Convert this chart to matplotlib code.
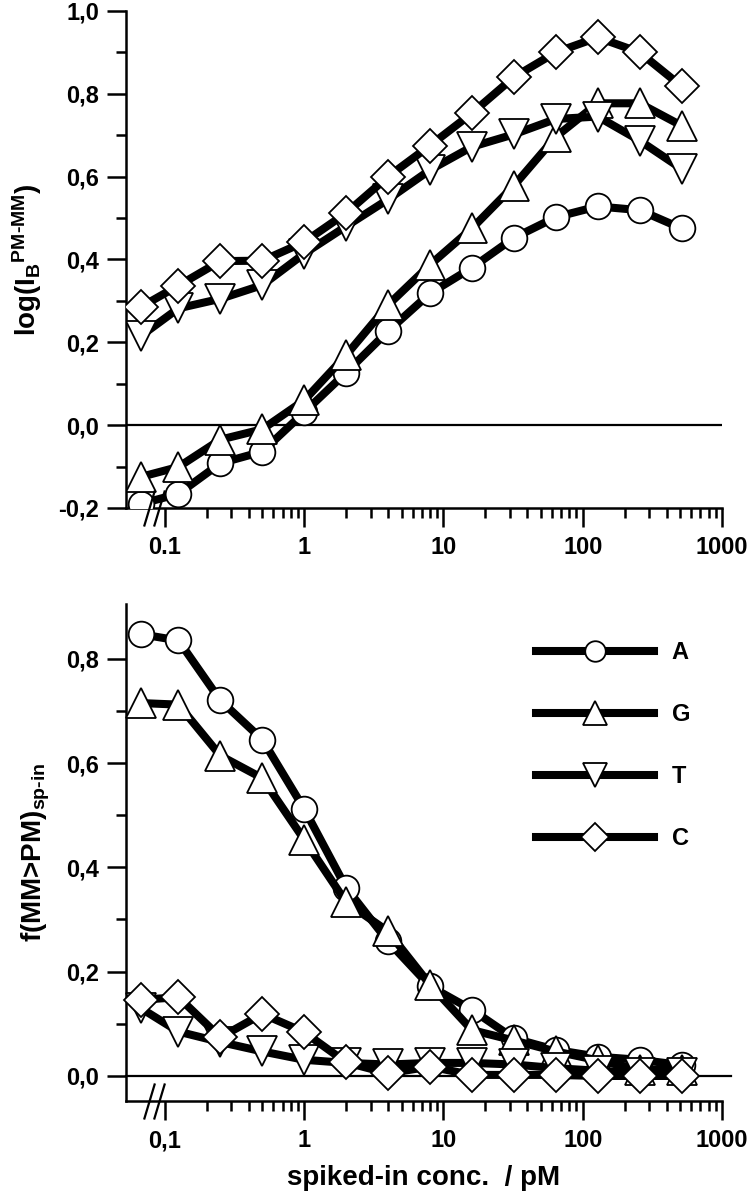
import matplotlib
matplotlib.use("Agg")
import matplotlib.pyplot as plt
from matplotlib.ticker import FixedLocator, FuncFormatter, NullFormatter

plt.rcParams["font.family"] = ["Liberation Sans", "DejaVu Sans"]
plt.rcParams["font.weight"] = "bold"
plt.rcParams["mathtext.fontset"] = "custom"
plt.rcParams["mathtext.rm"] = "Liberation Sans"
plt.rcParams["mathtext.bf"] = "Liberation Sans:bold"
plt.rcParams["mathtext.it"] = "Liberation Sans:italic"
plt.rcParams["mathtext.sf"] = "Liberation Sans"

# spiked-in concentration (pM); first point sits behind the axis break
conc = [0.067, 0.125, 0.25, 0.5, 1, 2, 4, 8, 16, 32, 64, 128, 256, 512]

# top panel: log(I_B^PM-MM)
log_ib_A = [-0.19, -0.166, -0.092, -0.064, 0.031, 0.127, 0.227, 0.318, 0.38, 0.452, 0.502, 0.528, 0.519, 0.475]
log_ib_G = [-0.125, -0.101, -0.035, -0.01, 0.06, 0.169, 0.29, 0.387, 0.475, 0.578, 0.696, 0.777, 0.777, 0.723]
log_ib_T = [0.215, 0.282, 0.305, 0.338, 0.414, 0.48, 0.545, 0.616, 0.672, 0.702, 0.739, 0.745, 0.687, 0.619]
log_ib_C = [0.285, 0.337, 0.396, 0.397, 0.442, 0.512, 0.60, 0.675, 0.753, 0.84, 0.90, 0.936, 0.90, 0.818]

# bottom panel: f(MM>PM)
frac_A = [0.847, 0.835, 0.72, 0.645, 0.512, 0.361, 0.258, 0.172, 0.127, 0.072, 0.05, 0.037, 0.031, 0.021]
frac_G = [0.715, 0.712, 0.614, 0.571, 0.453, 0.333, 0.277, 0.175, 0.088, 0.068, 0.047, 0.03, 0.012, 0.012]
frac_T = [0.13, 0.085, 0.065, 0.047, 0.031, 0.025, 0.022, 0.025, 0.025, 0.022, 0.015, 0.01, 0.005, 0.005]
frac_C = [0.146, 0.151, 0.074, 0.119, 0.084, 0.026, 0.005, 0.018, 0.002, 0.002, 0.002, 0.0, 0.0, 0.0]

bases = ["A", "G", "T", "C"]
markers = {"A": "o", "G": "^", "T": "v", "C": "D"}
msizes = {"A": 18.5, "G": 21, "T": 21, "C": 17.5}

x_major = [0.1, 1, 10, 100, 1000]
x_minor = [m * d for d in (0.1, 1, 10, 100) for m in range(2, 10)]
break_x = [0.077, 0.09]
XMIN, XMAX = 0.0525, 1000

LW = 5.8
AXW = 1.8
FS = 17
LABEL_FS = 20


def style_axes(ax, ylo, yhi, y_major, y_minor, dec_sep):
    ax.set_xscale("log")
    ax.set_xlim(XMIN, XMAX)
    ax.set_ylim(ylo, yhi)
    for s in ("top", "right"):
        ax.spines[s].set_visible(False)
    for s in ("left", "bottom"):
        ax.spines[s].set_linewidth(AXW)
    ax.xaxis.set_major_locator(FixedLocator(x_major))
    ax.xaxis.set_minor_locator(FixedLocator(x_minor))
    ax.xaxis.set_minor_formatter(NullFormatter())
    ax.xaxis.set_major_formatter(
        FuncFormatter(lambda v, p: (f"{v:g}").replace(".", dec_sep)))
    ax.yaxis.set_major_locator(FixedLocator(y_major))
    ax.yaxis.set_minor_locator(FixedLocator(y_minor))
    ax.yaxis.set_major_formatter(
        FuncFormatter(lambda v, p: f"{v:.1f}".replace(".", ",")))
    ax.tick_params(which="major", direction="out", length=13.5, width=AXW,
                   labelsize=FS, pad=6)
    ax.tick_params(which="minor", direction="out", length=7.5, width=AXW)
    ax.tick_params(axis="x", which="major", pad=7)
    for lab in ax.get_xticklabels() + ax.get_yticklabels():
        lab.set_fontweight("bold")
    # axis break marks
    ax.plot(break_x, [ylo, ylo], ls="none", marker=[(-0.3, -1), (0.3, 1)],
            ms=26, mec="black", mew=1.6, clip_on=False, zorder=6)


def draw_series(ax, series, clip):
    handles = []
    for b in bases:
        (h,) = ax.plot(conc, series[b], color="black", lw=LW,
                       marker=markers[b], ms=msizes[b], mfc="white",
                       mec="black", mew=1.3, label=b, clip_on=clip,
                       solid_joinstyle="miter", zorder=3)
        handles.append(h)
    return handles


fig = plt.figure(figsize=(7.5, 12), dpi=100)
ax1 = fig.add_axes([0.168, 0.5767, 0.7947, 0.4142])
ax2 = fig.add_axes([0.168, 0.0825, 0.7947, 0.4142])

# top panel
ax1.axhline(0, color="black", lw=1.6, zorder=1)
draw_series(ax1, {"A": log_ib_A, "G": log_ib_G, "T": log_ib_T, "C": log_ib_C}, True)
style_axes(ax1, -0.2, 1.0, [-0.2, 0.0, 0.2, 0.4, 0.6, 0.8, 1.0],
           [-0.1, 0.1, 0.3, 0.5, 0.7, 0.9], ".")
ax1.set_ylabel(r"log(I$_\mathbf{B}$$^\mathbf{PM\text{-}MM}$)",
               fontsize=LABEL_FS, fontweight="bold", labelpad=10)

# bottom panel
ax2.axhline(0, xmin=0, xmax=1.015, color="black", lw=1.6, zorder=1, clip_on=False)
handles = draw_series(ax2, {"A": frac_A, "G": frac_G, "T": frac_T, "C": frac_C}, False)
style_axes(ax2, -0.048, 0.905, [0.0, 0.2, 0.4, 0.6, 0.8],
           [0.1, 0.3, 0.5, 0.7], ",")
ax2.set_ylabel(r"f(MM>PM)$_\mathrm{sp\text{-}in}$", fontsize=LABEL_FS,
               fontweight="bold", labelpad=10)
ax2.set_xlabel("spiked-in conc.  / pM", fontsize=LABEL_FS, fontweight="bold",
               labelpad=9)

leg = ax2.legend(handles=handles, loc="upper left",
                 bbox_to_anchor=(0.688, 0.925), frameon=False,
                 handlelength=5.0, handletextpad=0.75, labelspacing=1.65,
                 markerscale=0.8, borderaxespad=0, borderpad=0,
                 prop={"weight": "bold", "size": 17})

fig.savefig("out.png", dpi=100)
